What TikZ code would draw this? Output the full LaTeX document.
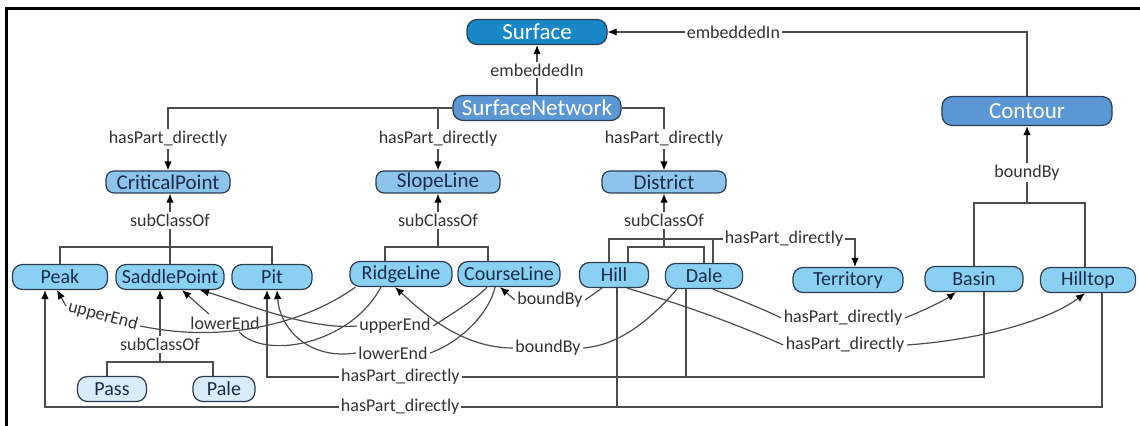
\documentclass[tikz,border=0pt]{standalone}
\usepackage{fontspec}
\setmainfont{Carlito}
\usetikzlibrary{positioning,arrows.meta}

\definecolor{surfaceBlue}{RGB}{25,134,200}
\definecolor{netBlue}{RGB}{90,151,212}
\definecolor{midBlue}{RGB}{141,196,236}
\definecolor{lowBlue}{RGB}{138,208,242}
\definecolor{paleBlue}{RGB}{216,237,249}
\definecolor{boxLine}{RGB}{45,60,80}
\definecolor{boxText}{RGB}{25,45,75}

\begin{document}
\begin{tikzpicture}
		[x=0.5pt,y=-0.5pt,line width=0.6pt,color=black!70,
		>={Latex[length=4.5pt,width=3.8pt,black]},
		TopNode/.style={rectangle,rounded corners=5pt,draw=boxLine,fill=#1,text=white,inner sep=1pt,minimum height=12.5pt,font=\fontsize{11.5}{12}\selectfont},
		MidNode/.style={rectangle,rounded corners=4pt,draw=boxLine,fill=midBlue,text=boxText,inner sep=1pt,minimum height=11pt,font=\fontsize{10.5}{11}\selectfont},
		LowNode/.style={rectangle,rounded corners=5pt,draw=boxLine,fill=#1,text=boxText,inner sep=1pt,minimum height=12.5pt,font=\fontsize{10}{11}\selectfont},
		Lbl/.style={fill=white,inner sep=1pt,text=black!80,font=\fontsize{9}{10}\selectfont}]
		
		% 画布大小与边框
		\useasboundingbox (0,0) rectangle (1140,426);
		\draw[black,line width=1.5pt] (6,426)--(6,9)--(1140,9);
		
		% 第一层结点
		\node[TopNode=surfaceBlue,minimum width=70pt] (surface) at (537,32){Surface};
		\node[TopNode=netBlue,minimum width=84pt] (net) at (537,108){SurfaceNetwork};
		\node[TopNode=netBlue,minimum width=85pt,minimum height=14.5pt] (contour) at (1027,111){Contour};
		
		% 第二层结点
		\node[MidNode,minimum width=62pt] (cp) at (168,182){CriticalPoint};
		\node[MidNode,minimum width=62pt] (sl) at (438,182){SlopeLine};
		\node[MidNode,minimum width=62pt] (dist) at (664,182){District};
		
		% 第三层结点
		\node[LowNode=lowBlue,minimum width=47.5pt] (peak) at (60,277){Peak};
		\node[LowNode=lowBlue,minimum width=54pt] (sp) at (170,277){SaddlePoint};
		\node[LowNode=lowBlue,minimum width=40pt] (pit) at (272,277){Pit};
		\node[LowNode=lowBlue,minimum width=51pt] (rl) at (401,274){RidgeLine};
		\node[LowNode=lowBlue,minimum width=51pt] (cl) at (509,274){CourseLine};
		\node[LowNode=lowBlue,minimum width=34.5pt] (hill) at (614,275){Hill};
		\node[LowNode=lowBlue,minimum width=38.5pt] (dale) at (704,276){Dale};
		\node[LowNode=lowBlue,minimum width=55pt] (terr) at (848,280){Territory};
		\node[LowNode=lowBlue,minimum width=49pt] (basin) at (974,279){Basin};
		\node[LowNode=lowBlue,minimum width=47.5pt] (ht) at (1088,280){Hilltop};
		
		% 第四层结点
		\node[LowNode=paleBlue,minimum width=34.5pt] (pass) at (112,389){Pass};
		\node[LowNode=paleBlue,minimum width=31pt] (pale) at (224,389){Pale};
		
		% 汇合点
		\coordinate (cpJ) at (165,247);
		\coordinate (slJ) at (435,247);
		\coordinate (dJ) at (662,247);
		\coordinate (tJ) at (662,239);
		\coordinate (coJ) at (1031,203);
		\coordinate (spJ) at (160,362);
		\coordinate (pitJ) at (267,377);
		\coordinate (pkJ) at (45,407);
		
		% embeddedIn
		\draw[->](net.north)--node[Lbl]{embeddedIn}(surface.south);
		\draw[->](contour.north)|-node[Lbl,pos=0.85]{embeddedIn}(surface.east);
		
		% SurfaceNetwork 的 hasPart_directly
		\draw[->](net.west)-|node[Lbl,pos=0.75]{hasPart\_directly}(cp.north);
		\draw[->](sl.north|-net.west)--node[Lbl]{hasPart\_directly}(sl.north);
		\draw[->](net.east)-|node[Lbl,pos=0.75]{hasPart\_directly}(dist.north);
		
		% subClassOf 树
		\draw(peak.north)|-(pit.north|-cpJ)--(pit.north);
		\draw(sp.north)--(sp.north|-cpJ);
		\draw[->](sp.north|-cpJ)--node[Lbl]{subClassOf}(sp.north|-cp.south);
		
		\draw([xshift=-8pt]rl.north)|-([xshift=-10.5pt]cl.north|-slJ)--([xshift=-10.5pt]cl.north);
		\draw[->](sl.south|-slJ)--node[Lbl]{subClassOf}(sl.south);
		
		\draw([xshift=7pt]hill.north)|-(dale.north|-dJ)--(dale.north);
		\draw[->](dist.south|-dJ)--node[Lbl]{subClassOf}(dist.south);
		
		\draw([xshift=-2.5pt]pass.north)|-([xshift=-5.5pt]pale.north|-spJ)--([xshift=-5.5pt]pale.north);
		\draw[->]([xshift=-5pt]sp.south|-spJ)--node[Lbl,pos=0.24]{subClassOf}([xshift=-5pt]sp.south);
		
		% Hill, Dale 到 Territory
		\draw([xshift=-2.5pt]hill.north)|-([xshift=4.5pt]dale.north|-tJ)--([xshift=4.5pt]dale.north);
		\draw[->]([xshift=4.5pt]dale.north|-tJ)-|node[Lbl,pos=0.25]{hasPart\_directly}([xshift=3.5pt]terr.north);
		
		% Basin, Hilltop 到 Contour
		\draw(basin.north)|-([xshift=-1.5pt]ht.north|-coJ)--([xshift=-1.5pt]ht.north);
		\draw[->](contour.south|-coJ)--node[Lbl,pos=0.4]{boundBy}(contour.south);
		
		% 到 Pit 与 Peak 的 hasPart_directly
		\draw[->]([xshift=5pt]basin.south)|-node[Lbl,pos=0.907]{hasPart\_directly}([xshift=-2.5pt]pit.south|-pitJ)--([xshift=-2.5pt]pit.south);
		\draw([xshift=-9pt]dale.south)--([xshift=-9pt]dale.south|-pitJ);
		\draw[->]([xshift=7pt]ht.south)|-node[Lbl,pos=0.832]{hasPart\_directly}([xshift=-7.5pt]peak.south|-pkJ)--([xshift=-7.5pt]peak.south);
		\draw([xshift=1.5pt]hill.south)--([xshift=1.5pt]hill.south|-pkJ);
		
		% 曲线上的标注
		\node[Lbl,rotate=-15] (ue1) at (103,316){upperEnd};
		\node[Lbl] (le1) at (225,323){lowerEnd};
		\node[Lbl] (ue2) at (395,326){upperEnd};
		\node[Lbl] (le2) at (393,353){lowerEnd};
		\node[Lbl] (bb1) at (550,300){boundBy};
		\node[Lbl] (bb2) at (548,348){boundBy};
		\node[Lbl] (hp1) at (843,318){hasPart\_directly};
		\node[Lbl] (hp2) at (845,345){hasPart\_directly};
		
		% RidgeLine 的端点
		\draw([xshift=3pt]rl.south west) .. controls (310,320) and (230,345) .. (ue1.east);
		\draw[->](ue1.west)--([xshift=-1.5pt]peak.south);
		\draw([xshift=7pt]le1.south) .. controls (265,360) and (350,345) .. ([xshift=-10pt]rl.south);
		\draw[->]([xshift=-8pt]le1.north)--([xshift=6pt]sp.south);
		
		% CourseLine 的端点
		\draw(ue2.east) .. controls (450,315) and (475,300) .. ([xshift=-11pt]cl.south);
		\draw[->](ue2.west) .. controls (310,330) and (250,305) .. ([xshift=15pt]sp.south);
		\draw(le2.east) .. controls (465,340) and (490,310) .. ([xshift=-7pt]cl.south);
		\draw[->](le2.west) .. controls (310,360) and (280,330) .. ([xshift=2.5pt]pit.south);
		
		% boundBy
		\draw([xshift=-6pt]hill.south)--(bb1.east);
		\draw[->](bb1.west)--([xshift=-4.5pt]cl.south);
		\draw([xshift=-13.5pt]dale.south) .. controls (650,320) and (620,345) .. (bb2.east);
		\draw[->](bb2.west) .. controls (460,348) and (420,310) .. ([xshift=-3pt]rl.south);
		
		% Hill, Dale 的 hasPart_directly 曲线
		\draw([xshift=4.5pt]dale.south) .. controls (740,300) and (770,312) .. (hp1.west);
		\draw[->](hp1.east) .. controls (925,310) and (945,300) .. ([xshift=-9pt]basin.south);
		\draw([xshift=6.5pt]hill.south) .. controls (700,310) and (750,330) .. (hp2.west);
		\draw[->](hp2.east) .. controls (980,340) and (1050,320) .. ([xshift=-1.5pt]ht.south);
		
	\end{tikzpicture}
\end{document}
